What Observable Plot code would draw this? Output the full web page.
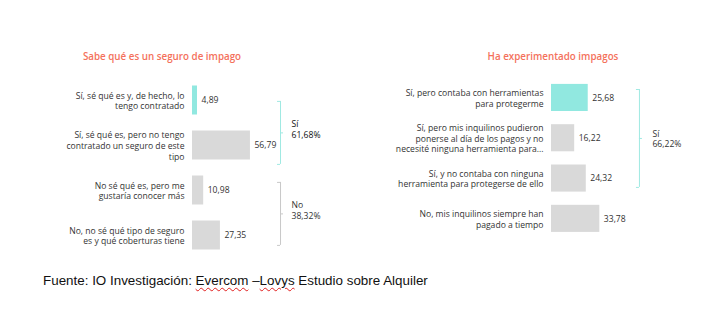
<!DOCTYPE html>
<html>
<head>
<meta charset="utf-8">
<script src="https://cdn.jsdelivr.net/npm/d3@7"></script>
<script src="https://cdn.jsdelivr.net/npm/@observablehq/plot@0.6"></script>
<style>
  html, body { margin: 0; padding: 0; background: #fff; }
  #wrap { position: relative; width: 720px; height: 318px; overflow: hidden; }
  .panel { position: absolute; top: 0; }
  #left { left: 0; }
  #right { left: 360px; }
  .ttl { position: absolute; top: 50px; font-family: "Open Sans", sans-serif; font-size: 9.8px; font-weight: 600; color: #f4715c; white-space: nowrap; transform: translateX(-50%); }
  #caption { position: absolute; left: 43px; top: 273px; font-family: "Liberation Sans", Arial, sans-serif; font-size: 13.4px; color: #111; white-space: nowrap; }
  .sp { text-decoration: underline wavy #e02020; text-decoration-thickness: 1px; text-underline-offset: 2px; }
</style>
</head>
<body>
<div id="wrap">
  <div class="panel" id="left"></div>
  <div class="panel" id="right"></div>
  <div class="ttl" id="t1" style="left:162px"></div>
  <div class="ttl" id="t2" style="left:553px"></div>
  <div id="caption">Fuente: IO Investigación: <span class="sp">Evercom</span> –<span class="sp">Lovys</span> Estudio sobre Alquiler</div>
</div>
<script>
// ---- Left panel data ----
const titleLeft = "Sabe qué es un seguro de impago";
const catsLeft = [
  "Sí, sé qué es y, de hecho, lo\ntengo contratado",
  "Sí, sé qué es, pero no tengo\ncontratado un seguro de este\ntipo",
  "No sé qué es, pero me\ngustaría conocer más",
  "No, no sé qué tipo de seguro\nes y qué coberturas tiene"
];
const valuesLeft = [4.89, 56.79, 10.98, 27.35];
const highlightLeft = [true, false, false, false];
const groupsLeftLabel = ["Sí\n61,68%", "No\n38,32%"];
const groupsLeftFrom = [0.02, 1.82];
const groupsLeftTo = [1.42, 3.22];
const groupsLeftBold = [true, false];

// ---- Right panel data ----
const titleRight = "Ha experimentado impagos";
const catsRight = [
  "Sí, pero contaba con herramientas\npara protegerme",
  "Sí, pero mis inquilinos pudieron\nponerse al día de los pagos y no\nnecesité ninguna herramienta para...",
  "Sí, y no contaba con ninguna\nherramienta para protegerse de ello",
  "No, mis inquilinos siempre han\npagado a tiempo"
];
const valuesRight = [25.68, 16.22, 24.32, 33.78];
const highlightRight = [true, false, false, false];
const groupsRightLabel = ["Sí\n66,22%"];
const groupsRightFrom = [-0.21];
const groupsRightTo = [2.22];
const groupsRightBold = [false];

const captionText = "Fuente: IO Investigación: Evercom –Lovys Estudio sobre Alquiler";

document.getElementById("t1").textContent = titleLeft;
document.getElementById("t2").textContent = titleRight;

const TEAL = "#91e8e0";
const GRAY = "#d9d9d9";
const TEXT = "#333333";
const FONT = "Open Sans, sans-serif";

function fmt(v) { return v.toFixed(2).replace(".", ","); }

function panel({cats, values, hi, gLabel, gFrom, gTo, gBold, xRange, yRange, bandInset, bracketX, labelDx, labelDy}) {
  const data = cats.map((c, i) => ({i, cat: c, v: values[i], hi: hi[i]}));
  const groups = gLabel.map((l, k) => ({label: l, from: gFrom[k], to: gTo[k], mid: (gFrom[k] + gTo[k]) / 2, bold: gBold[k], color: gLabel[k].startsWith("Sí") ? "#9fe9e2" : "#c9c9c9"}));
  return Plot.plot({
    width: 360,
    height: 260,
    margin: 0,
    style: {fontFamily: FONT, background: "transparent"},
    x: {domain: [0, 100], range: xRange, axis: null},
    y: {domain: [-0.5, 3.5], range: yRange, axis: null},
    marks: [
      Plot.rectX(data, {x1: 0, x2: "v", y1: d => d.i - 0.5, y2: d => d.i + 0.5, insetTop: bandInset, insetBottom: bandInset, fill: d => d.hi ? TEAL : GRAY}),
      Plot.text(data, {x: 0, y: "i", text: "cat", textAnchor: "end", dx: -8, fontSize: 8.6, fill: TEXT, lineHeight: 1.25}),
      Plot.text(data, {x: "v", y: "i", text: d => fmt(d.v), textAnchor: "start", dx: 4, fontSize: 8.6, fill: TEXT}),
      Plot.ruleX(groups, {x: bracketX, y1: "from", y2: "to", stroke: "color", strokeWidth: 1}),
      Plot.ruleY(groups, {y: "from", x1: bracketX, x2: bracketX, insetLeft: -3, stroke: "color"}),
      Plot.ruleY(groups, {y: "to", x1: bracketX, x2: bracketX, insetLeft: -3, stroke: "color"}),
      Plot.ruleY(groups, {y: "mid", x1: bracketX, x2: bracketX, insetRight: -3, stroke: "color"}),
      Plot.text(groups, {x: bracketX, y: "mid", text: "label", textAnchor: "start", dx: labelDx, dy: labelDy, fontSize: 8.6, fill: d => d.bold ? "#111" : TEXT, fontWeight: d => d.bold ? "bold" : "normal", lineHeight: 1.25})
    ]
  });
}

document.getElementById("left").append(panel({
  cats: catsLeft, values: valuesLeft, hi: highlightLeft,
  gLabel: groupsLeftLabel, gFrom: groupsLeftFrom, gTo: groupsLeftTo, gBold: groupsLeftBold,
  xRange: [192, 294], yRange: [77.5, 257.5], bandInset: 8,
  bracketX: 86.3, labelDx: 11, labelDy: -4
}));

document.getElementById("right").append(panel({
  cats: catsRight, values: valuesRight, hi: highlightRight,
  gLabel: groupsRightLabel, gFrom: groupsRightFrom, gTo: groupsRightTo, gBold: groupsRightBold,
  xRange: [191, 334], yRange: [77.3, 238.5], bandInset: 6.6,
  bracketX: 61.5, labelDx: 13, labelDy: 0
}));
</script>
</body>
</html>
